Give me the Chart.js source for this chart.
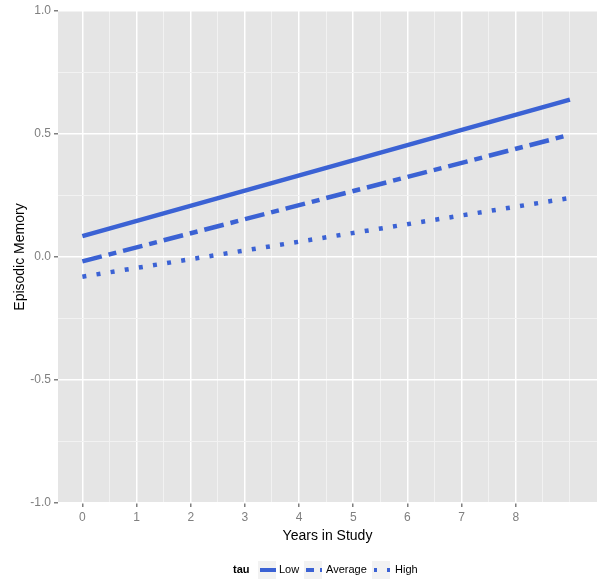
<!DOCTYPE html>
<html>
<head>
<meta charset="utf-8">
<script src="https://cdn.jsdelivr.net/npm/chart.js@4"></script>
<style>
  body { margin: 0; background: #fff; }
  canvas { display: block; }
</style>
</head>
<body>
<canvas id="memChart" width="601" height="586"></canvas>
<script>
const years = [0, 9];
const lowTau = [0.085, 0.64];
const avgTau = [-0.018, 0.497];
const highTau = [-0.08, 0.24];
const seriesNames = ["Low", "Average", "High"];
const xGrid = [0, 0.5, 1, 1.5, 2, 2.5, 3, 3.5, 4, 4.5, 5, 5.5, 6, 6.5, 7, 7.5, 8, 8.5, 9];
const xLabels = [0, 1, 2, 3, 4, 5, 6, 7, 8];
const yGrid = [-1, -0.75, -0.5, -0.25, 0, 0.25, 0.5, 0.75, 1];
const yLabels = [-1, -0.5, 0, 0.5, 1];

const FONT = '"Liberation Sans", Arial, sans-serif';
const BLUE = "#3B62D4";

function pts(vals) {
  return years.map((x, i) => ({ x: x, y: vals[i] }));
}

const panelBg = {
  id: "panelBg",
  beforeDraw(chart) {
    const a = chart.chartArea;
    const ctx = chart.ctx;
    ctx.save();
    ctx.fillStyle = "#E5E5E5";
    ctx.fillRect(a.left, a.top, a.right - a.left, a.bottom - a.top);
    ctx.restore();
  }
};

// ggplot-like legend along the bottom: "tau" then the three keys
// (key dash patterns are shorter so they fit in the little boxes)
const tauLegend = {
  id: "tauLegend",
  afterDraw(chart) {
    const ctx = chart.ctx;
    const y = 570;
    const keyX = [258, 304, 372];
    const labelX = [279, 326, 395];
    const keyDash = [[], [8, 6, 2, 6], [3, 10]];
    ctx.save();
    ctx.textBaseline = "middle";
    ctx.fillStyle = "#000";
    ctx.font = "bold 11px " + FONT;
    ctx.fillText("tau", 233, y);
    chart.data.datasets.forEach((ds, i) => {
      ctx.fillStyle = "#F2F2F2";
      ctx.fillRect(keyX[i], y - 9, 18, 18);
      ctx.beginPath();
      ctx.strokeStyle = ds.borderColor;
      ctx.lineWidth = 4;
      ctx.lineCap = "butt";
      ctx.setLineDash(keyDash[i]);
      ctx.moveTo(keyX[i] + 2, y);
      ctx.lineTo(keyX[i] + 18, y);
      ctx.stroke();
      ctx.setLineDash([]);
      ctx.fillStyle = "#000";
      ctx.font = "11px " + FONT;
      ctx.fillText(ds.label, labelX[i], y);
    });
    ctx.restore();
  }
};

new Chart(document.getElementById("memChart"), {
  type: "line",
  data: {
    datasets: [
      { label: seriesNames[0], data: pts(lowTau), borderColor: BLUE, borderWidth: 4.5, borderDash: [] },
      { label: seriesNames[1], data: pts(avgTau), borderColor: BLUE, borderWidth: 4.5, borderDash: [20, 7, 8, 7] },
      { label: seriesNames[2], data: pts(highTau), borderColor: BLUE, borderWidth: 4.5, borderDash: [4, 10.3] }
    ]
  },
  options: {
    responsive: false,
    animation: false,
    devicePixelRatio: 1,
    layout: { padding: { top: 11, right: 4, left: 0, bottom: 0 } },
    elements: {
      point: { radius: 0 },
      line: { tension: 0, borderCapStyle: "butt", fill: false }
    },
    plugins: {
      legend: { display: false },
      tooltip: { enabled: false }
    },
    scales: {
      x: {
        type: "linear",
        min: -0.45,
        max: 9.5,
        afterBuildTicks: s => { s.ticks = xGrid.map(v => ({ value: v })); },
        afterFit: s => { s.height = 83; },
        border: { display: false },
        grid: {
          color: c => xLabels.includes(c.tick.value) ? "#FFFFFF" : "#F2F2F2",
          lineWidth: c => xLabels.includes(c.tick.value) ? 1.5 : 1,
          tickColor: c => xLabels.includes(c.tick.value) ? "#7F7F7F" : "rgba(0,0,0,0)",
          tickLength: 4
        },
        ticks: {
          autoSkip: false,
          maxRotation: 0,
          padding: 3,
          color: "#7F7F7F",
          font: { family: FONT, size: 12 },
          callback: v => xLabels.includes(v) ? String(v) : ""
        },
        title: {
          display: true,
          text: "Years in Study",
          color: "#000",
          font: { family: FONT, size: 14 },
          padding: { top: 0, bottom: 41 }
        }
      },
      y: {
        type: "linear",
        min: -1,
        max: 1,
        afterBuildTicks: s => { s.ticks = yGrid.map(v => ({ value: v })); },
        afterFit: s => { s.width = 58; },
        border: { display: false },
        grid: {
          color: c => yLabels.includes(c.tick.value) ? "#FFFFFF" : "#F2F2F2",
          lineWidth: c => yLabels.includes(c.tick.value) ? 1.5 : 1,
          tickColor: c => yLabels.includes(c.tick.value) ? "#7F7F7F" : "rgba(0,0,0,0)",
          tickLength: 4
        },
        ticks: {
          autoSkip: false,
          padding: 3,
          color: "#7F7F7F",
          font: { family: FONT, size: 12 },
          callback: v => yLabels.includes(v) ? v.toFixed(1) : ""
        },
        title: {
          display: true,
          text: "Episodic Memory",
          color: "#000",
          font: { family: FONT, size: 14 },
          padding: { top: 12, bottom: 0 }
        }
      }
    }
  },
  plugins: [panelBg, tauLegend]
});
</script>
</body>
</html>
